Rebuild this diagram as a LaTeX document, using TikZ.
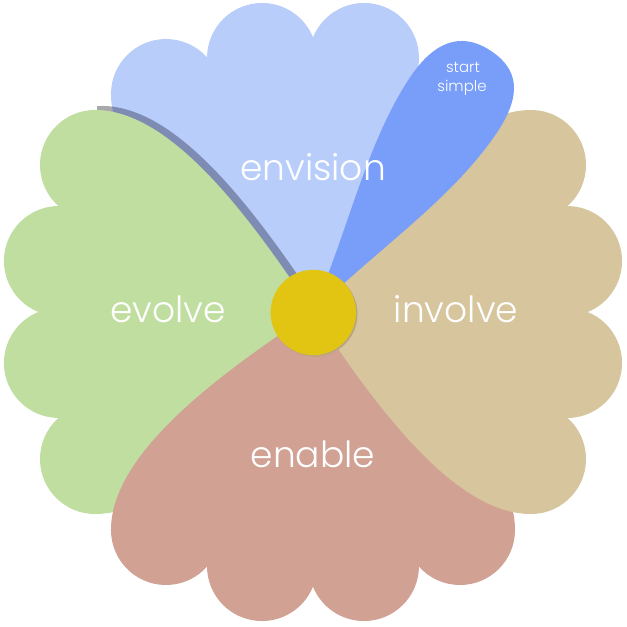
\documentclass[tikz,border=0pt]{standalone}
\usepackage{fontspec}
\newfontfamily\petalfont{Poppins Light}
\definecolor{pblue}{RGB}{185,205,251}
\definecolor{pdark}{RGB}{120,158,250}
\definecolor{pgreen}{RGB}{192,222,160}
\definecolor{ptan}{RGB}{214,197,157}
\definecolor{pred}{RGB}{209,161,148}
\definecolor{pyellow}{RGB}{226,196,18}
\definecolor{pshadow}{RGB}{126,140,180}
\definecolor{gshadow}{RGB}{168,168,172}
\definecolor{cshadow}{RGB}{185,165,130}
\newcommand\flowerpetal[2]{%
  #1[#2] (0,0) .. controls (-90,60) and (-202,140) .. (-202,218)
    arc[start angle=180,end angle=41.76,radius=55]
    arc[start angle=179.37,end angle=22,radius=55]
    arc[start angle=158,end angle=0.63,radius=55]
    arc[start angle=138.24,end angle=0,radius=55]
    .. controls (202,140) and (90,60) .. (0,0) -- cycle;}
% top petal: its right lobe lies under the "start simple" petal
\newcommand\toppetal[2]{%
  #1[#2] (0,0) .. controls (-90,60) and (-202,140) .. (-202,218)
    arc[start angle=180,end angle=41.76,radius=55]
    arc[start angle=179.37,end angle=22,radius=55]
    arc[start angle=158,end angle=-40,radius=55]
    -- (0,0) -- cycle;}
\tikzset{
  lbl/.style={text=white, anchor=base, inner sep=0pt, font=\petalfont\fontsize{36}{40}\selectfont},
  smalllbl/.style={text=white, anchor=base, inner sep=0pt, font=\petalfont\fontsize{15}{18}\selectfont}
}
\begin{document}
\begin{tikzpicture}[x=1pt,y=1pt]
\useasboundingbox (0,0) rectangle (627,-627);
\fill[white] (0,0) rectangle (627,-627);
% shadow of left petal over the white ground
\begin{scope}
  \clip (97,-100) rectangle (140,-125);
  \flowerpetal{\fill}{gshadow,shift={(320,-308)},rotate=90}
\end{scope}
% top petal
\toppetal{\fill}{pblue,shift={(313,-312)},rotate=0}
% shadow of left petal, seen on the top petal
\begin{scope}
  \toppetal{\clip}{shift={(313,-312)},rotate=0}
  \flowerpetal{\fill}{pshadow,shift={(320,-308)},rotate=90}
\end{scope}
\flowerpetal{\fill}{pgreen,shift={(313,-312)},rotate=90}
\flowerpetal{\fill}{pred,shift={(313,-312)},rotate=180}
\flowerpetal{\fill}{ptan,shift={(313,-312)},rotate=270}
% start simple petal
\fill[pdark,shift={(313,-312)},rotate=-34.5] (0,0) .. controls (-18,90) and (-52,170) .. (-53,250)
  .. controls (-53,300) and (-30,316) .. (0,316)
  .. controls (30,316) and (50,300) .. (50,250)
  .. controls (50,170) and (18,90) .. (0,0) -- cycle;
% center
\fill[cshadow] (314.8,-314) circle[radius=42.7];
\fill[pyellow] (313.3,-312.5) circle[radius=42.7];
% labels
\node[lbl] (envision) at (313,-180) {envision};
\node[lbl] (evolve) at (168,-322) {evolve};
\node[lbl] (involve) at (456,-322) {involve};
\node[lbl] (enable) at (313,-467) {enable};
\node[smalllbl] (start) at (463,-72.5) {start};
\node[smalllbl] (simple) at (462,-91.5) {simple};
\end{tikzpicture}
\end{document}
